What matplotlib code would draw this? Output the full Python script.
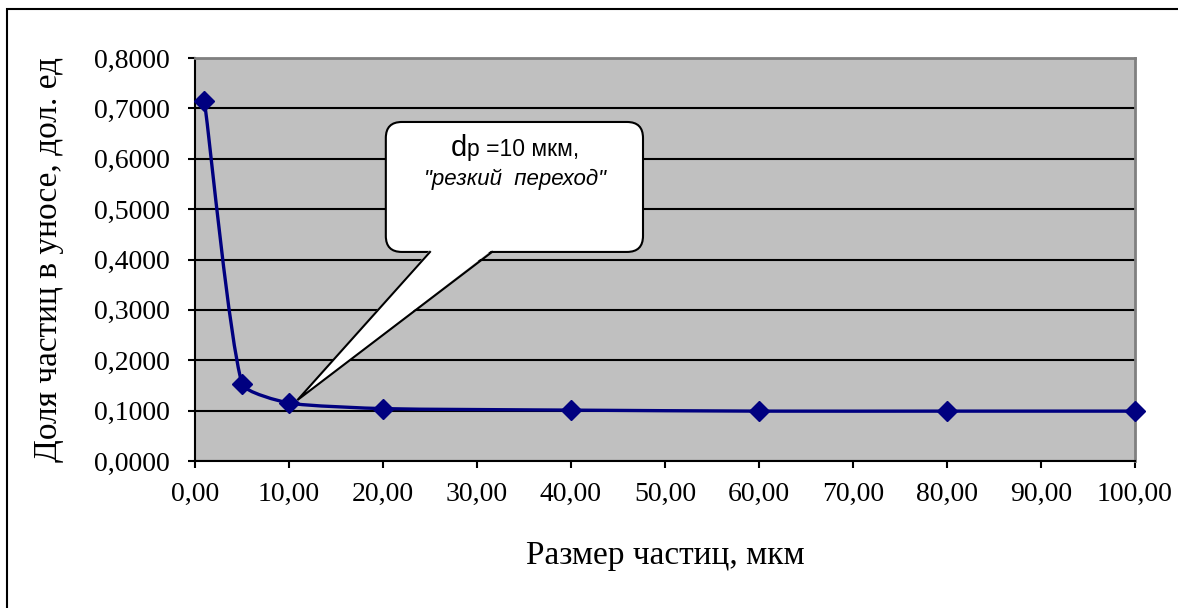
import numpy as np
import matplotlib
matplotlib.use("Agg")
import matplotlib.pyplot as plt
from matplotlib.path import Path
from matplotlib.patches import PathPatch, FancyBboxPatch, Polygon, Rectangle
from matplotlib.offsetbox import TextArea, HPacker, VPacker, AnnotationBbox
from matplotlib.ticker import FuncFormatter, MultipleLocator

# data
size_um = [1, 5, 10, 20, 40, 60, 80, 100]
share = [0.715, 0.153, 0.115, 0.104, 0.101, 0.099, 0.099, 0.099]

x_label = "Размер частиц, мкм"
y_label = "Доля частиц в уносе, дол. ед"
note_1a, note_1b = "d", "p =10 мкм,"
note_2 = "\"резкий  переход\""

W, H = 1178, 608
fig = plt.figure(figsize=(W / 100, H / 100), dpi=100)
fig.patch.set_facecolor("white")

# outer chart frame
fig.add_artist(Rectangle((7 / W, -0.05), 1.2, 1 - 9 / H + 0.05,
                         transform=fig.transFigure, fill=False,
                         edgecolor="black", linewidth=1.5))

ax = fig.add_axes([195 / W, (H - 461) / H, (1135 - 195) / W, (461 - 58) / H])
ax.set_facecolor("#c0c0c0")
ax.set_xlim(0, 100)
ax.set_ylim(0, 0.8)

serif = "Liberation Serif"
ax.xaxis.set_major_locator(MultipleLocator(10))
ax.yaxis.set_major_locator(MultipleLocator(0.1))
ax.xaxis.set_major_formatter(FuncFormatter(lambda v, p: f"{v:.2f}".replace(".", ",")))
ax.yaxis.set_major_formatter(FuncFormatter(lambda v, p: f"{v:.4f}".replace(".", ",")))
ax.tick_params(direction="out", length=5, width=1.5, color="black",
               labelsize=20)
for lab in ax.get_xticklabels() + ax.get_yticklabels():
    lab.set_fontfamily(serif)
ax.tick_params(axis="x", pad=10)
ax.tick_params(axis="y", pad=13)

ax.grid(axis="y", color="black", linewidth=1.5)
ax.set_axisbelow(True)
for s in ["left", "bottom"]:
    ax.spines[s].set_color("black")
    ax.spines[s].set_linewidth(1.5)
for s in ["top", "right"]:
    ax.spines[s].set_color("#808080")
    ax.spines[s].set_linewidth(2)

ax.set_xlabel(x_label, fontsize=24, fontfamily=serif, labelpad=24)
ax.set_ylabel(y_label, fontsize=24, fontfamily=serif, labelpad=22)

# smoothed line (Excel-like bezier), computed in display space
pts = ax.transData.transform(np.column_stack([size_um, share]))
n = len(pts)
verts = [pts[0]]
codes = [Path.MOVETO]
k = 0.27
for i in range(n - 1):
    p0 = pts[i - 1] if i > 0 else pts[i]
    p1, p2 = pts[i], pts[i + 1]
    p3 = pts[i + 2] if i + 2 < n else pts[i + 1]
    d12 = np.linalg.norm(p2 - p1)
    d01 = np.linalg.norm(p1 - p0)
    d23 = np.linalg.norm(p3 - p2)
    t1 = (p2 - p0) * (d12 / (d01 + d12)) * k
    t2 = (p3 - p1) * (d12 / (d12 + d23)) * k
    verts += [p1 + t1 * 2 / 3, p2 - t2 * 2 / 3, p2]
    codes += [Path.CURVE4] * 3
verts = ax.transData.inverted().transform(np.array(verts))
ax.add_patch(PathPatch(Path(verts, codes), fill=False, edgecolor="#000080",
                       linewidth=2.4, zorder=3))
ax.plot(size_um, share, linestyle="none", marker="D", markersize=10,
        color="#000080", zorder=4, clip_on=False)

# callout
bx0, bx1, by0, by1 = 20.3, 47.66, 0.415, 0.673
px_x = 9.4
px_y = 503.75
r = 16 / px_x
box = FancyBboxPatch((bx0, by0), bx1 - bx0, by1 - by0,
                     boxstyle=f"round,pad=0,rounding_size={r}",
                     mutation_aspect=px_x / px_y,
                     facecolor="white", edgecolor="black", linewidth=1.5,
                     zorder=5)
ax.add_patch(box)
tip = (10.9, 0.121)
base_l, base_r = 25.0, 31.6
ax.add_patch(Polygon([(base_l, by0 + 0.004), tip, (base_r, by0 + 0.004)],
                     closed=True, facecolor="white", edgecolor="none", zorder=6))
ax.plot([base_l, tip[0], base_r], [by0, tip[1], by0], color="black",
        linewidth=1.5, zorder=7, solid_joinstyle="miter")

line1 = HPacker(children=[TextArea(note_1a, textprops=dict(size=21, family="Liberation Sans")),
                          TextArea(note_1b, textprops=dict(size=16.5, family="Liberation Sans"))],
                align="baseline", pad=0, sep=0)
line2 = TextArea(note_2, textprops=dict(size=16, family="Liberation Sans", style="italic"))
note = VPacker(children=[line1, line2], align="center", pad=0, sep=5)
ab = AnnotationBbox(note, (34.0, 0.650), box_alignment=(0.5, 1.0), frameon=False,
                    zorder=8)
ax.add_artist(ab)

fig.savefig("out.png", dpi=100, facecolor="white")
